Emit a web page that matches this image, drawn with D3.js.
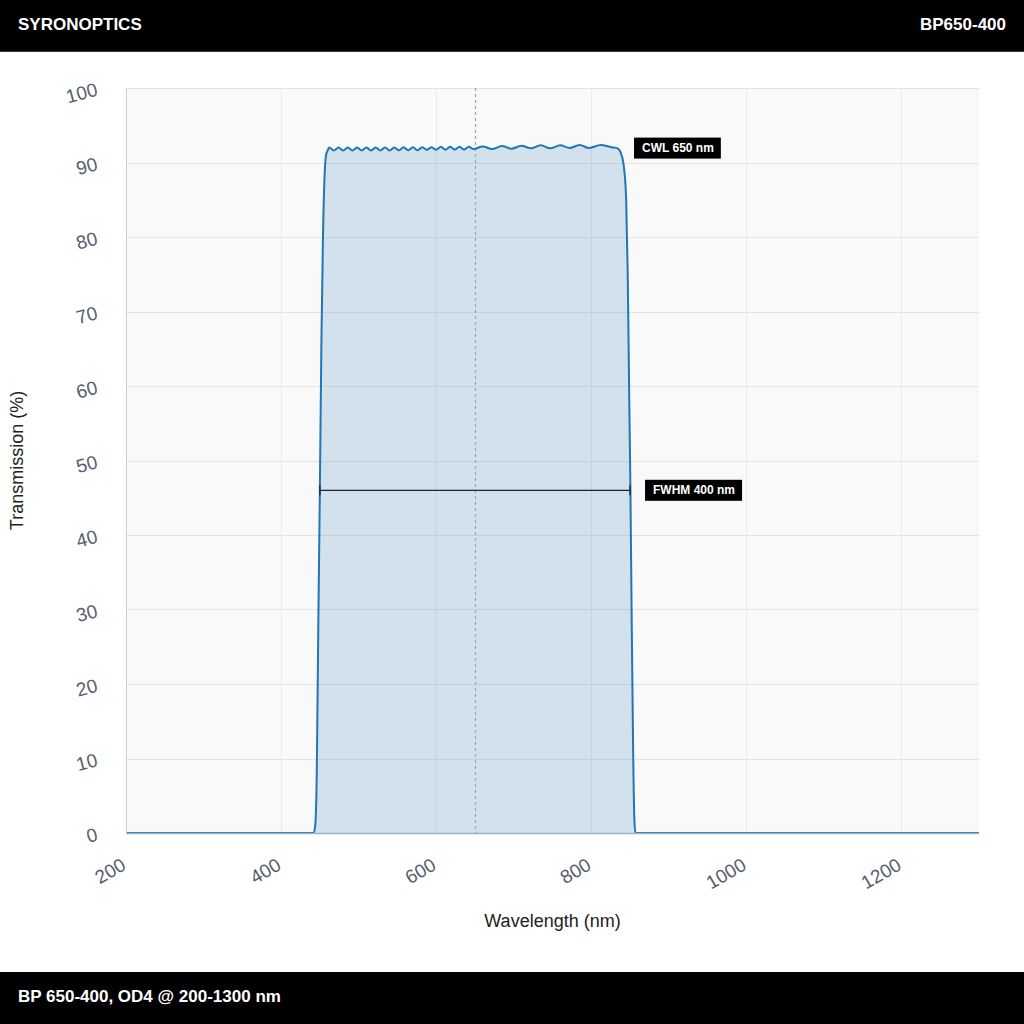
<!DOCTYPE html>
<html>
<head>
<meta charset="utf-8">
<script src="https://cdn.jsdelivr.net/npm/d3@7"></script>
<style>
  html, body { margin: 0; padding: 0; background: #ffffff; }
  svg { display: block; font-family: "Liberation Sans", Arial, Helvetica, sans-serif; }
</style>
</head>
<body>
<svg id="chart" width="1024" height="1024"></svg>
<script>
// ---- Data ----
const headerLeft = "SYRONOPTICS";
const headerRight = "BP650-400";
const footerText = "BP 650-400, OD4 @ 200-1300 nm";
const xTitle = "Wavelength (nm)";
const yTitle = "Transmission (%)";

const xTicks = [200, 400, 600, 800, 1000, 1200];
const yTicks = [0, 10, 20, 30, 40, 50, 60, 70, 80, 90, 100];
const xDomain = [200, 1300];
const yDomain = [0, 100];

const cwl = 650;
const fwhmRange = [450, 850];
const fwhmLevel = 46;
const cwlLabel = "CWL 650 nm";
const fwhmLabel = "FWHM 400 nm";

const wavelength = [
  200, 300, 400, 440, 442, 444, 446, 448, 450, 452, 454, 456, 458, 460, 462,
  468, 474, 480, 486, 492, 498, 504, 510, 516, 522, 528, 534, 540, 546,
  552, 558, 564, 570, 576, 582, 588, 594, 600, 606, 612, 618, 624, 630,
  636, 642, 648, 660, 672, 685, 697, 710, 722, 735, 747, 760, 772, 785,
  797, 812, 826, 834, 838, 841, 843, 845, 847, 849, 850.5, 852, 854, 855.5,
  857, 860, 900, 1000, 1100, 1200, 1300
];
const transmission = [
  0, 0, 0, 0, 0.05, 1, 8, 28, 46, 66, 80, 88, 91, 91.6, 92.0,
  91.6, 92.0, 91.6, 92.0, 91.6, 92.0, 91.6, 92.0, 91.6, 92.0, 91.6, 92.0, 91.6, 92.0,
  91.65, 92.05, 91.65, 92.05, 91.65, 92.05, 91.7, 92.05, 91.7, 92.1, 91.7, 92.1, 91.75, 92.1,
  91.75, 92.1, 91.8, 92.15, 91.8, 92.2, 91.85, 92.25, 91.9, 92.3, 91.9, 92.3, 91.95, 92.35,
  91.95, 92.35, 92.05, 91.9, 91.3, 90.2, 88.5, 85, 75, 58, 46, 30, 11, 2,
  0, 0, 0, 0, 0, 0, 0
];

// ---- Layout ----
const W = 1024, H = 1024;
const plot = { left: 126, right: 979, top: 88, bottom: 833 };

const svg = d3.select("#chart");

const x = d3.scaleLinear().domain(xDomain).range([plot.left, plot.right]);
const y = d3.scaleLinear().domain(yDomain).range([plot.bottom, plot.top]);

// Header
svg.append("rect").attr("x", 0).attr("y", 0).attr("width", W).attr("height", 51).attr("fill", "#000");
svg.append("rect").attr("x", 0).attr("y", 51).attr("width", W).attr("height", 1).attr("fill", "#3a3a3a");
svg.append("text").attr("x", 18).attr("y", 24).attr("fill", "#fff")
  .attr("font-size", 17).attr("font-weight", "bold").attr("dominant-baseline", "central")
  .text(headerLeft);
svg.append("text").attr("x", 1006).attr("y", 24).attr("fill", "#fff")
  .attr("font-size", 17).attr("font-weight", "bold").attr("text-anchor", "end")
  .attr("dominant-baseline", "central").text(headerRight);

// Footer
svg.append("rect").attr("x", 0).attr("y", 972).attr("width", W).attr("height", 52).attr("fill", "#000");
svg.append("text").attr("x", 18).attr("y", 996).attr("fill", "#fff")
  .attr("font-size", 17).attr("font-weight", "bold").attr("dominant-baseline", "central")
  .text(footerText);

// Plot background
svg.append("rect").attr("x", plot.left).attr("y", plot.top)
  .attr("width", plot.right - plot.left).attr("height", plot.bottom - plot.top)
  .attr("fill", "#f9f9f9");

// Grid
const grid = svg.append("g");
grid.selectAll("line.h").data(yTicks.filter(d => d > 0)).enter().append("line")
  .attr("x1", plot.left).attr("x2", plot.right)
  .attr("y1", d => Math.round(y(d)) + 0.5).attr("y2", d => Math.round(y(d)) + 0.5)
  .attr("stroke", "#e4e4e4").attr("stroke-width", 1);
grid.selectAll("line.v").data(xTicks.filter(d => d > xDomain[0])).enter().append("line")
  .attr("x1", d => Math.round(x(d)) + 0.5).attr("x2", d => Math.round(x(d)) + 0.5)
  .attr("y1", plot.top).attr("y2", plot.bottom)
  .attr("stroke", "#eaeaea").attr("stroke-width", 1);

// Clip
svg.append("defs").append("clipPath").attr("id", "clip")
  .append("rect").attr("x", plot.left).attr("y", plot.top)
  .attr("width", plot.right - plot.left).attr("height", plot.bottom - plot.top);

const pts = wavelength.map((w, i) => [w, transmission[i]]);

const area = d3.area().x(d => x(d[0])).y0(y(0)).y1(d => y(d[1])).curve(d3.curveMonotoneX);
const line = d3.line().x(d => x(d[0])).y(d => y(d[1])).curve(d3.curveMonotoneX);

const g = svg.append("g").attr("clip-path", "url(#clip)");
g.append("path").datum(pts).attr("d", area).attr("fill", "#1f77b4").attr("fill-opacity", 0.18);

// CWL dashed line
g.append("line").attr("x1", Math.round(x(cwl)) + 0.5).attr("x2", Math.round(x(cwl)) + 0.5)
  .attr("y1", plot.top).attr("y2", plot.bottom)
  .attr("stroke", "#9ea3a8").attr("stroke-width", 1.2).attr("stroke-dasharray", "3,3");

g.append("path").datum(pts).attr("d", line).attr("fill", "none")
  .attr("stroke", "#2176b5").attr("stroke-width", 2).attr("stroke-linejoin", "round");

// Axes lines
svg.append("line").attr("x1", plot.left + 0.5).attr("x2", plot.left + 0.5)
  .attr("y1", plot.top).attr("y2", plot.bottom)
  .attr("stroke", "#c8d0da").attr("stroke-width", 1);
svg.append("line").attr("x1", plot.left).attr("x2", plot.right)
  .attr("y1", plot.bottom + 0.5).attr("y2", plot.bottom + 0.5)
  .attr("stroke", "#9bb4cc").attr("stroke-width", 1.5);

// FWHM marker
const fy = y(fwhmLevel);
const fw = svg.append("g").attr("stroke", "#1b2430").attr("stroke-width", 1.3);
fw.append("line").attr("x1", x(fwhmRange[0])).attr("x2", x(fwhmRange[1])).attr("y1", fy).attr("y2", fy);
fw.append("line").attr("x1", x(fwhmRange[0])).attr("x2", x(fwhmRange[0])).attr("y1", fy - 5).attr("y2", fy + 5);
fw.append("line").attr("x1", x(fwhmRange[1])).attr("x2", x(fwhmRange[1])).attr("y1", fy - 5).attr("y2", fy + 5);

// Labels with black boxes
function boxLabel(px, py, txt) {
  const lg = svg.append("g");
  const t = lg.append("text").attr("x", px + 8).attr("y", py).attr("fill", "#fff")
    .attr("font-size", 12).attr("font-weight", "bold").attr("dominant-baseline", "central")
    .text(txt);
  const bb = t.node().getBBox();
  lg.insert("rect", "text").attr("x", px).attr("y", py - 10.5)
    .attr("width", bb.width + 15).attr("height", 21).attr("fill", "#000");
}
boxLabel(x(fwhmRange[1]) + 4, y(92) + 0.5, cwlLabel);
boxLabel(x(fwhmRange[1]) + 15, fy, fwhmLabel);

// Tick labels
svg.append("g").selectAll("text").data(yTicks).enter().append("text")
  .attr("transform", d => `translate(${plot.left - 29},${y(d) + 1}) rotate(-15)`)
  .attr("text-anchor", "end").attr("dominant-baseline", "central")
  .attr("font-size", 19).attr("fill", "#555e6b").text(d => d);

svg.append("g").selectAll("text").data(xTicks).enter().append("text")
  .attr("transform", d => `translate(${x(d) - 2},${plot.bottom + 30}) rotate(-30)`)
  .attr("text-anchor", "end").attr("dominant-baseline", "central")
  .attr("font-size", 19).attr("fill", "#555e6b").text(d => d);

// Axis titles
svg.append("text").attr("x", (plot.left + plot.right) / 2).attr("y", 921)
  .attr("text-anchor", "middle").attr("dominant-baseline", "central")
  .attr("font-size", 18).attr("fill", "#222").text(xTitle);
svg.append("text").attr("transform", `translate(17,${(plot.top + plot.bottom) / 2}) rotate(-90)`)
  .attr("text-anchor", "middle").attr("dominant-baseline", "central")
  .attr("font-size", 18).attr("fill", "#222").text(yTitle);
</script>
</body>
</html>
